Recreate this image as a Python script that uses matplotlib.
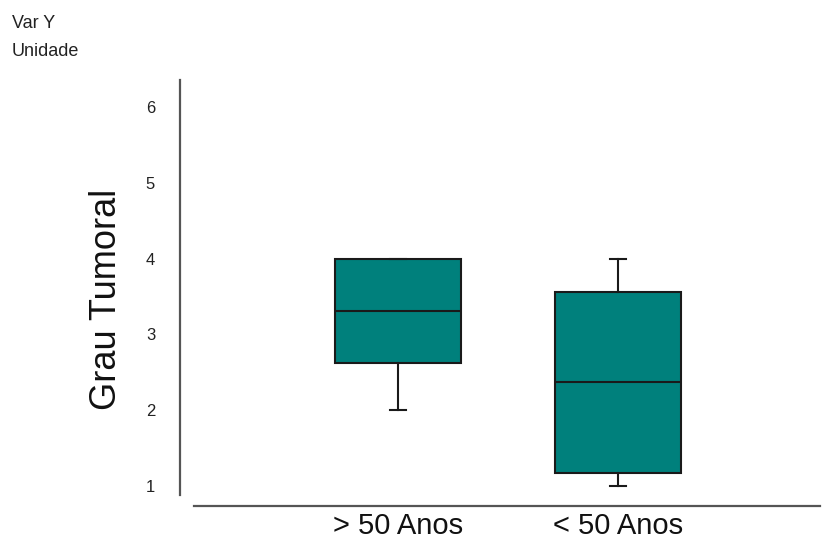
import matplotlib
matplotlib.use("Agg")
import matplotlib.pyplot as plt

plt.rcParams['font.family'] = ['Liberation Sans', 'DejaVu Sans']

# dados
grupos = ['> 50 Anos', '< 50 Anos']
q1 = [2.62, 1.17]
mediana = [3.31, 2.37]
q3 = [4.0, 3.56]
bigode_inf = [2.0, 1.0]
bigode_sup = [4.0, 4.0]
yticks = [1, 2, 3, 4, 5, 6]

stats = []
for i in range(len(grupos)):
    stats.append({'label': grupos[i], 'q1': q1[i], 'med': mediana[i],
                  'q3': q3[i], 'whislo': bigode_inf[i], 'whishi': bigode_sup[i]})

W, H = 835, 540
fig = plt.figure(figsize=(W / 100, H / 100), dpi=100)
ax = fig.add_axes([194 / W, 1 - 495 / H, (820 - 194) / W, (495 - 80) / H])

linha = dict(color='#1a1a1a', linewidth=1.5)
ax.bxp(stats, positions=[1, 2], widths=0.573, capwidths=0.077, patch_artist=True,
       showfliers=False,
       boxprops=dict(facecolor='#00807c', edgecolor='#1a1a1a', linewidth=1.5),
       medianprops=linha, whiskerprops=linha, capprops=linha)

ax.set_xlim(0.073, 2.918)
ax.set_ylim(0.881, 6.356)
ax.set_yticks(yticks)
ax.set_yticklabels([str(v) for v in yticks])

for s in ['top', 'right']:
    ax.spines[s].set_visible(False)
ax.spines['left'].set_position(('outward', 10))
ax.spines['bottom'].set_position(('outward', 8))
for s in ['left', 'bottom']:
    ax.spines[s].set_color('#555555')
    ax.spines[s].set_linewidth(1.6)

ax.tick_params(axis='y', length=0, pad=18, labelsize=12, labelcolor='#222222')
ax.tick_params(axis='x', length=0, pad=4, labelsize=21, labelcolor='#111111')

fig.text(106 / W, 1 - 299 / H, 'Grau Tumoral', rotation=90, ha='center', va='center',
         fontsize=26, color='#111111')
fig.text(12 / W, 1 - 23 / H, 'Var Y', ha='left', va='center', fontsize=13, color='#222222')
fig.text(12 / W, 1 - 52 / H, 'Unidade', ha='left', va='center', fontsize=13, color='#222222')

fig.savefig('out.png', dpi=100)
